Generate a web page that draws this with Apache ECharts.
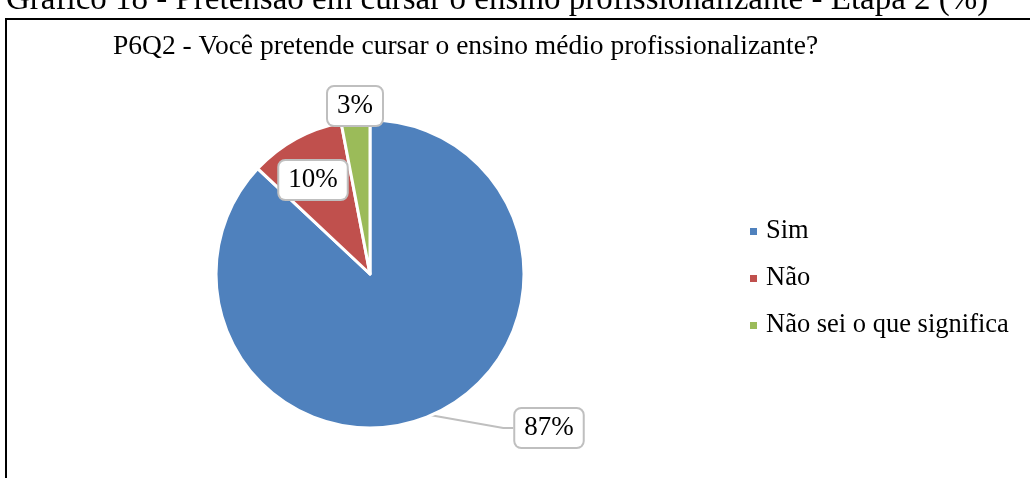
<!DOCTYPE html>
<html lang="pt">

<head>
    <meta charset="UTF-8">
    <title>P6Q2</title>
    <script src="https://cdn.jsdelivr.net/npm/echarts@6/dist/echarts.min.js"></script>
    <style>
        body {
            margin: 0;
            background: #fff;
        }
        #chart {
            width: 1030px;
            height: 478px;
        }
    </style>
</head>

<body>
    <div id="chart"></div>
</body>
<script>
    var categories = ['Sim', 'Não', 'Não sei o que significa'];
    var values = [87, 10, 3];
    var colors = ['#4F81BD', '#C0504D', '#9BBB59'];

    var serif = '"Liberation Serif", "DejaVu Serif", serif';

    // onde fica cada caixinha de rótulo (centro)
    var labelPos = [
        [549, 428],
        [313, 180],
        [355, 106]
    ];

    var pieData = categories.map(function (name, i) {
        return {
            name: name,
            value: values[i],
            itemStyle: { color: colors[i] },
            labelLine: { show: i == 0 }
        };
    });

    var chart = echarts.init(document.getElementById('chart'));

    var option = {
        backgroundColor: '#fff',
        animation: false,
        title: {
            text: 'P6Q2 - Você pretende cursar o ensino médio profissionalizante?',
            left: 108,
            top: 28,
            textStyle: {
                fontFamily: serif,
                fontWeight: 'normal',
                fontSize: 27.5,
                color: '#000'
            }
        },
        graphic: [
            {
                type: 'text',
                left: 6,
                top: -16,
                style: {
                    text: 'Gráfico 18 - Pretensão em cursar o ensino profissionalizante - Etapa 2 (%)',
                    font: '33px ' + serif,
                    fill: '#000'
                }
            },
            {
                type: 'rect',
                shape: { x: 6, y: 19, width: 1040, height: 480 },
                style: { fill: 'none', stroke: '#000', lineWidth: 2 }
            }
        ],
        legend: {
            orient: 'vertical',
            left: 748,
            top: 218,
            padding: 0,
            itemWidth: 9,
            itemHeight: 9,
            itemGap: 20,
            icon: 'rect',
            data: categories,
            textStyle: {
                fontFamily: serif,
                fontSize: 26.5,
                lineHeight: 26,
                color: '#000',
                padding: [0, 0, 0, 3]
            }
        },
        series: [
            {
                type: 'pie',
                center: [370, 274],
                radius: 154,
                startAngle: 90,
                clockwise: true,
                data: pieData,
                itemStyle: {
                    borderColor: '#fff',
                    borderWidth: 3
                },
                label: {
                    show: true,
                    formatter: '{c}%',
                    fontFamily: serif,
                    fontSize: 27,
                    color: '#000',
                    backgroundColor: '#fff',
                    borderColor: '#bfbfbf',
                    borderWidth: 2,
                    borderRadius: 6,
                    padding: [7, 9, 4, 9]
                },
                labelLine: {
                    show: true,
                    length: 10,
                    length2: 10,
                    lineStyle: { color: '#bfbfbf', width: 2 }
                },
                labelLayout: function (params) {
                    var p = labelPos[params.dataIndex];
                    return {
                        x: p[0],
                        y: p[1],
                        align: 'center',
                        verticalAlign: 'middle'
                    };
                }
            }
        ]
    };

    chart.setOption(option);
</script>

</html>
